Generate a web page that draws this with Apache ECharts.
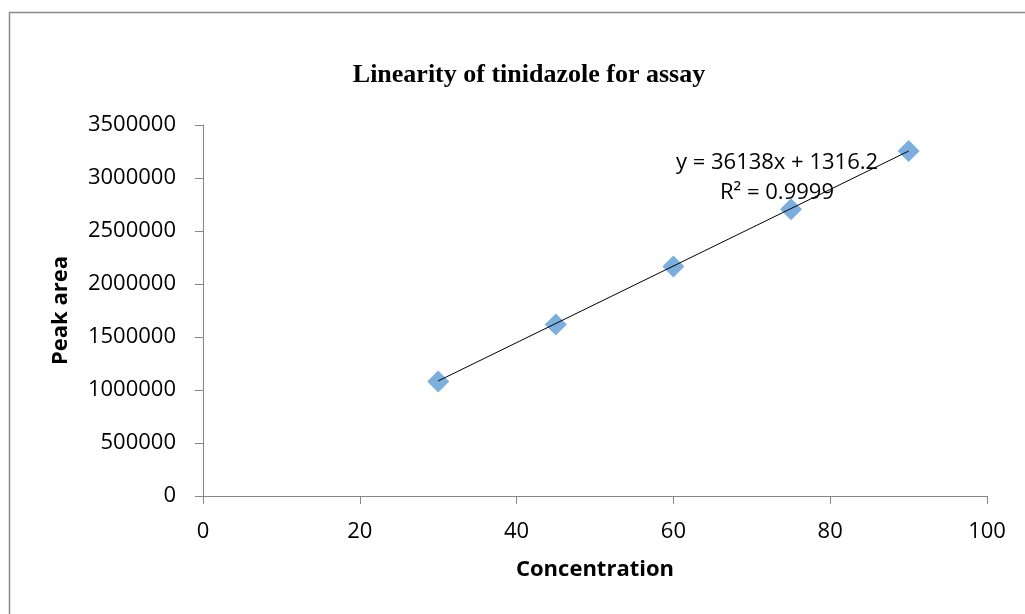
<!DOCTYPE html>
<html>
<head>
<meta charset="utf-8">
<title>Linearity of tinidazole for assay</title>
<script src="https://cdn.jsdelivr.net/npm/echarts@6/dist/echarts.min.js"></script>
<style>
  html, body { margin: 0; padding: 0; background: #fff; }
  #main { width: 1025px; height: 614px; }
</style>
</head>
<body>
<div id="main"></div>
<script>
// concentration vs peak area
const concentration = [30, 45, 60, 75, 90];
const peakArea = [1080000, 1618000, 2166000, 2705000, 3254000];

// linear trendline as printed on the chart
const slope = 36138;
const intercept = 1316.2;
const rSquared = '0.9999';

const xTicks = [0, 20, 40, 60, 80, 100];
const yTicks = [0, 500000, 1000000, 1500000, 2000000, 2500000, 3000000, 3500000];

const axisGrey = '#868686';
const labelFont = '"Open Sans", "Noto Sans", sans-serif';

const points = concentration.map((c, i) => [c, peakArea[i]]);
const xMin = Math.min(...concentration);
const xMax = Math.max(...concentration);
const trend = [xMin, xMax].map(c => [c, slope * c + intercept]);

const chart = echarts.init(document.getElementById('main'), null, { renderer: 'canvas' });

chart.setOption({
  backgroundColor: '#fff',
  animation: false,
  title: {
    text: 'Linearity of tinidazole for assay',
    left: 524,
    top: 57,
    textAlign: 'center',
    textStyle: {
      fontFamily: '"Liberation Serif", "Times New Roman", serif',
      fontWeight: 'bold',
      fontSize: 26,
      color: '#000'
    }
  },
  grid: {
    left: 203,
    right: 38,
    top: 125,
    bottom: 118,
    containLabel: false
  },
  xAxis: {
    type: 'value',
    min: xTicks[0],
    max: xTicks[xTicks.length - 1],
    interval: xTicks[1] - xTicks[0],
    name: 'Concentration',
    nameLocation: 'middle',
    nameGap: 63,
    nameTextStyle: {
      fontFamily: labelFont,
      fontWeight: 'bold',
      fontSize: 22,
      color: '#000'
    },
    axisLine: { show: true, lineStyle: { color: axisGrey, width: 1 } },
    axisTick: { show: true, length: 8, lineStyle: { color: axisGrey } },
    axisLabel: {
      margin: 25,
      fontFamily: labelFont,
      fontSize: 22,
      color: '#000'
    },
    splitLine: { show: false }
  },
  yAxis: {
    type: 'value',
    min: yTicks[0],
    max: yTicks[yTicks.length - 1],
    interval: yTicks[1] - yTicks[0],
    name: 'Peak area',
    nameLocation: 'middle',
    nameGap: 131,
    nameRotate: 90,
    nameTextStyle: {
      fontFamily: labelFont,
      fontWeight: 'bold',
      fontSize: 22,
      color: '#000'
    },
    axisLine: { show: true, lineStyle: { color: axisGrey, width: 1 } },
    axisTick: { show: true, length: 8, lineStyle: { color: axisGrey } },
    axisLabel: {
      margin: 27,
      fontFamily: labelFont,
      fontSize: 22,
      color: '#000',
      formatter: v => String(v)
    },
    splitLine: { show: false }
  },
  series: [
    {
      name: 'trend',
      type: 'line',
      data: trend,
      symbol: 'none',
      lineStyle: { color: '#000', width: 1 },
      z: 3
    },
    {
      name: 'Peak area',
      type: 'scatter',
      data: points,
      symbol: 'diamond',
      symbolSize: 22,
      itemStyle: { color: '#5B9BD5' },
      z: 2
    }
  ],
  graphic: [
    {
      type: 'rect',
      silent: true,
      shape: { x: 9.5, y: 12.5, width: 1100, height: 700 },
      style: { fill: 'none', stroke: '#8a8a8a', lineWidth: 1.5 }
    },
    {
      type: 'text',
      silent: true,
      z: 10,
      style: {
        x: 777,
        y: 178,
        text: 'y = ' + slope + 'x + ' + intercept + '\nR² = ' + rSquared,
        textAlign: 'center',
        textVerticalAlign: 'middle',
        font: '22px ' + labelFont,
        lineHeight: 30,
        fill: '#000'
      }
    }
  ]
});
</script>
</body>
</html>
